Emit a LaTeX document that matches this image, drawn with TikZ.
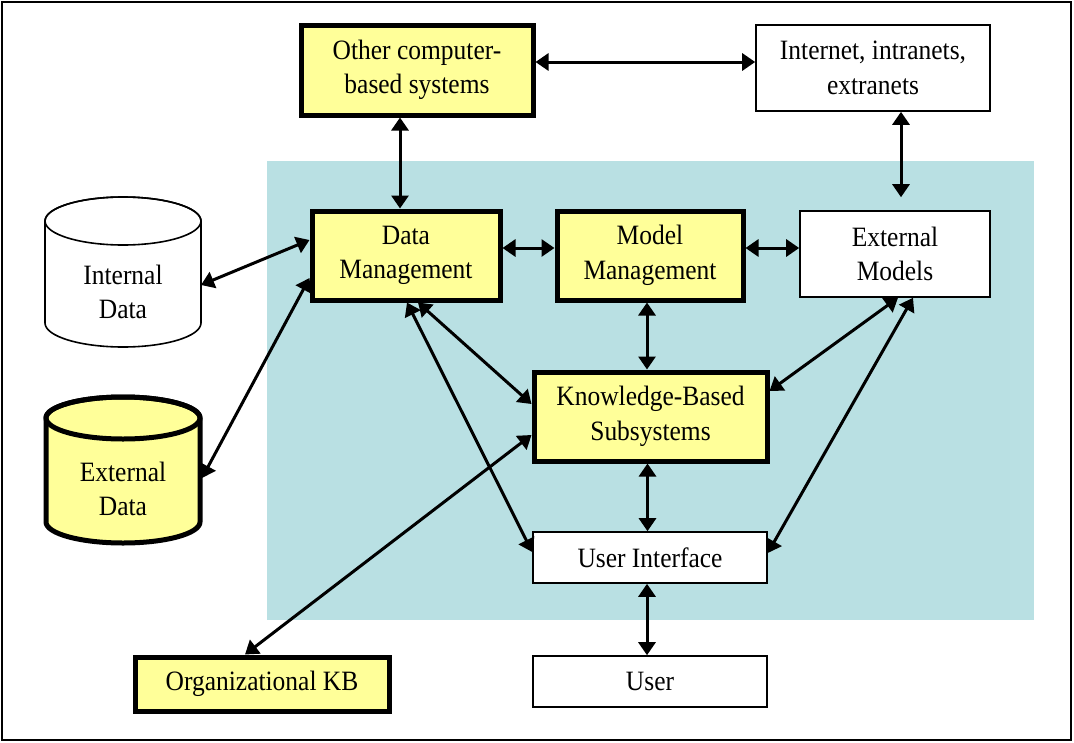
\documentclass[tikz,border=0pt]{standalone}
\usepackage{fontspec}
\setmainfont[FakeStretch=0.91]{Liberation Serif}
\usetikzlibrary{arrows.meta}
\definecolor{panel}{RGB}{185,224,227}
\definecolor{boxyellow}{RGB}{255,255,153}
\begin{document}
\begin{tikzpicture}[x=1pt,y=-1pt,
  every node/.style={font=\fontsize{28}{34.5}\selectfont, align=center, inner sep=0pt},
  heavy/.style={draw, line width=5pt, fill=boxyellow, rectangle},
  light/.style={draw, line width=1.6pt, fill=white, rectangle},
  arr/.style={line width=3pt, {Triangle[length=13pt,width=17pt]}-{Triangle[length=13pt,width=17pt]}},
  bound/.style={inner sep=0pt, outer sep=0pt, minimum width=#1}
]
\useasboundingbox (0,0) rectangle (1074,742);
\fill[white] (0,0) rectangle (1074,742);
\draw[line width=1.8pt] (2,2) rectangle (1071,740);
% shaded panel
\fill[panel] (267,161) rectangle (1034,620);

% Internal Data cylinder
\draw[line width=1.6pt, fill=white] (45,221) -- (45,323) arc[start angle=180, end angle=0, x radius=78, y radius=24] -- (201,221) arc[start angle=0, end angle=-180, x radius=78, y radius=24] -- cycle;
\draw[line width=1.6pt] (123,221) ellipse[x radius=78, y radius=24];
\node[bound=156pt, minimum height=150pt] (intd) at (123,272) {};
\node (intdt) at (123,292) {Internal\\Data};

% External Data cylinder
\draw[line width=5pt, fill=boxyellow] (46,418) -- (46,522) arc[start angle=180, end angle=0, x radius=77, y radius=21] -- (200,418) arc[start angle=0, end angle=-180, x radius=77, y radius=21] -- cycle;
\draw[line width=5pt] (123,418) ellipse[x radius=77, y radius=21];
\node[bound=158pt, minimum height=150pt] (extd) at (123,470) {};
\node (extdt) at (123,489) {External\\Data};

% boxes
\node[heavy, minimum width=232pt, minimum height=90pt] (other) at (417,70) {Other computer-\\based systems};
\node[light, minimum width=234pt, minimum height=86pt] (internet) at (873,68) {Internet, intranets,\\extranets};
\node[heavy, minimum width=188pt, minimum height=89pt] (dm) at (406,255.5) {Data\\Management};
\node[heavy, minimum width=186pt, minimum height=89pt] (mm) at (650,255.5) {Model\\Management};
\node[light, minimum width=190pt, minimum height=86pt] (extm) at (895,254) {External\\Models};
\node[heavy, minimum width=233pt, minimum height=89pt] (kbs) at (650.5,416.5) {Knowledge-Based\\Subsystems};
\node[light, minimum width=234pt, minimum height=51pt] (ui) at (650,557.5) {User Interface};
\node[light, minimum width=234pt, minimum height=51pt] (user) at (650,681.5) {User};
\node[heavy, minimum width=254pt, minimum height=54pt] (orgkb) at (262,684) {Organizational KB};

% connectors
\draw[arr] ([yshift=8pt]other.east) -- ([yshift=8pt]other.east -| internet.west);
\draw[arr] ([xshift=-6pt]dm.north |- other.south) -- ([xshift=-6pt]dm.north);
\draw[arr, shorten >=13pt] ([xshift=28pt]internet.south) -- ([xshift=28pt]internet.south |- extm.north);
\draw[arr] ([yshift=7.5pt]dm.east) -- ([yshift=7.5pt]dm.east -| mm.west);
\draw[arr] ([yshift=7.5pt]mm.east) -- ([yshift=7.5pt]mm.east -| extm.west);
\draw[arr] ([xshift=-3pt]mm.south) -- ([xshift=-3pt]mm.south |- kbs.north);
\draw[arr] ([xshift=-3pt]kbs.south) -- ([xshift=-3pt]kbs.south |- ui.north);
\draw[arr] ([xshift=-3pt]ui.south) -- ([xshift=-3pt]ui.south |- user.north);
\draw[arr] ([yshift=-13pt]intd.east) -- ([yshift=15.5pt]dm.west);
\draw[arr] ([yshift=-8pt]extd.east) -- ([yshift=-22.5pt]dm.west);
\draw[arr] ([xshift=12pt]dm.south) -- ([yshift=12.5pt]kbs.west);
\draw[arr] ([xshift=1pt]dm.south) -- ([yshift=5.5pt]ui.west);
\draw[arr] ([yshift=-18.5pt]kbs.west) -- ([xshift=-17pt]orgkb.north);
\draw[arr] ([xshift=3pt]extm.south) -- ([yshift=25.5pt]kbs.east);
\draw[arr] ([xshift=18pt]extm.south) -- ([yshift=4.5pt]ui.east);
\end{tikzpicture}
\end{document}
